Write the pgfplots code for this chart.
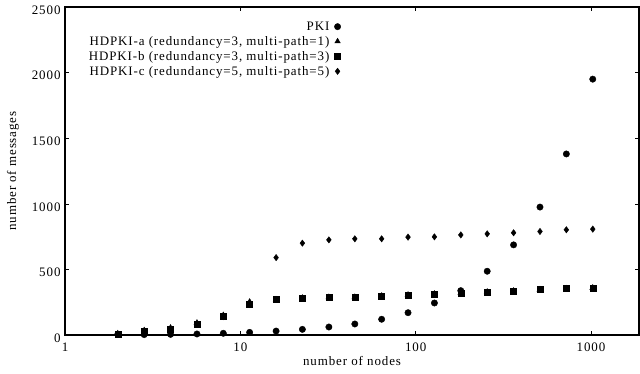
\documentclass[border=0pt]{standalone}
\usepackage{pgfplots}
\pgfplotsset{compat=1.18}
\usepackage{fontspec}
\setmainfont{Liberation Serif}[LetterSpace=7]
\begin{document}
\begin{tikzpicture}[x=1bp,y=1bp]
\begin{axis}[
  at={(0,0)}, anchor=south west,
  scale only axis,
  width=574bp, height=328bp,
  xmode=log, log basis x=10,
  xmin=1, xmax=1880,
  ymin=0, ymax=2500,
  ytick={0,500,1000,1500,2000,2500},
  xtick={1,10,100,1000},
  xticklabels={1,10,100,1000},
  yticklabels={0,500,1000,1500,2000,2500},
  tick align=inside,
  major tick length=4bp, minor tick length=2bp,
  axis line style={line width=1.2pt},
  every tick/.style={black, line width=0.6pt},
  tick label style={font=\fontsize{13}{15}\selectfont},
  xticklabel style={yshift=-4bp},
  yticklabel style={yshift=-3bp, xshift=-1bp},
  label style={font=\fontsize{13}{15}\selectfont},
  xlabel={number of nodes},
  ylabel={number of messages},
  xlabel style={yshift=2bp},
  ylabel style={yshift=6bp},
  /pgf/number format/assume math mode=true,
  legend style={draw=none, fill=none, at={(0.486,0.968)}, anchor=north east,
    font=\fontsize{13}{15}\selectfont, row sep=0.5bp},
  legend cell align=right,
  legend plot pos=right,
  legend image code/.code={\path (0bp,0bp);
    \draw[#1, mark repeat=2, mark phase=2] plot coordinates {(0bp,0bp) (6bp,0bp)};},
  clip=false,
]
\addlegendimage{only marks, mark=*, mark size=3.2bp, black}
\addlegendentry{PKI}
\addlegendimage{only marks, mark=triangle*, mark size=3.2bp, black}
\addlegendentry{HDPKI-a (redundancy=3, multi-path=1)}
\addlegendimage{only marks, mark=square*, mark size=3bp, black}
\addlegendentry{HDPKI-b (redundancy=3, multi-path=3)}
\addlegendimage{only marks, mark=diamond*, mark size=3.2bp, black}
\addlegendentry{HDPKI-c (redundancy=5, multi-path=5)}

% HDPKI-c
\addplot[forget plot, only marks, mark=diamond*, mark size=3.2bp, black] coordinates {
(2,8) (2.83,30) (4,48) (5.66,84) (8,140) (11.3,232)
(16,590) (22.6,700) (32,725) (45,733) (64,733) (90.5,746) (128,748)
(181,763) (256,771) (362,779) (512,789) (724,802) (1024,807)};
% HDPKI-a
\addplot[forget plot, only marks, mark=triangle*, mark size=3.4bp, black] coordinates {
(2,10) (2.83,34) (4,54) (5.66,92) (8,150) (11.3,252)
(16,270) (22.6,282) (32,288) (45,288) (64,298) (90.5,305) (128,313)
(181,320) (256,328) (362,336) (512,346) (724,354) (1024,359)};
% HDPKI-b
\addplot[forget plot, only marks, mark=square*, mark size=3bp, black] coordinates {
(2,8) (2.83,30) (4,48) (5.66,84) (8,140) (11.3,232)
(16,270) (22.6,277) (32,288) (45,288) (64,298) (90.5,305) (128,313)
(181,320) (256,328) (362,336) (512,346) (724,354) (1024,359)};
% PKI
\addplot[forget plot, only marks, mark=*, mark size=3.2bp, black] coordinates {
(2,5) (2.83,3) (4,5) (5.66,8) (8,13) (11.3,20)
(16,30) (22.6,43) (32,61) (45,84) (64,120) (90.5,170) (128,244)
(181,338) (256,486) (362,687) (512,975) (724,1380) (1024,1950)};
\end{axis}
\pgfresetboundingbox
\path (-65bp,-39bp) rectangle (575bp,335bp);
\end{tikzpicture}
\end{document}
